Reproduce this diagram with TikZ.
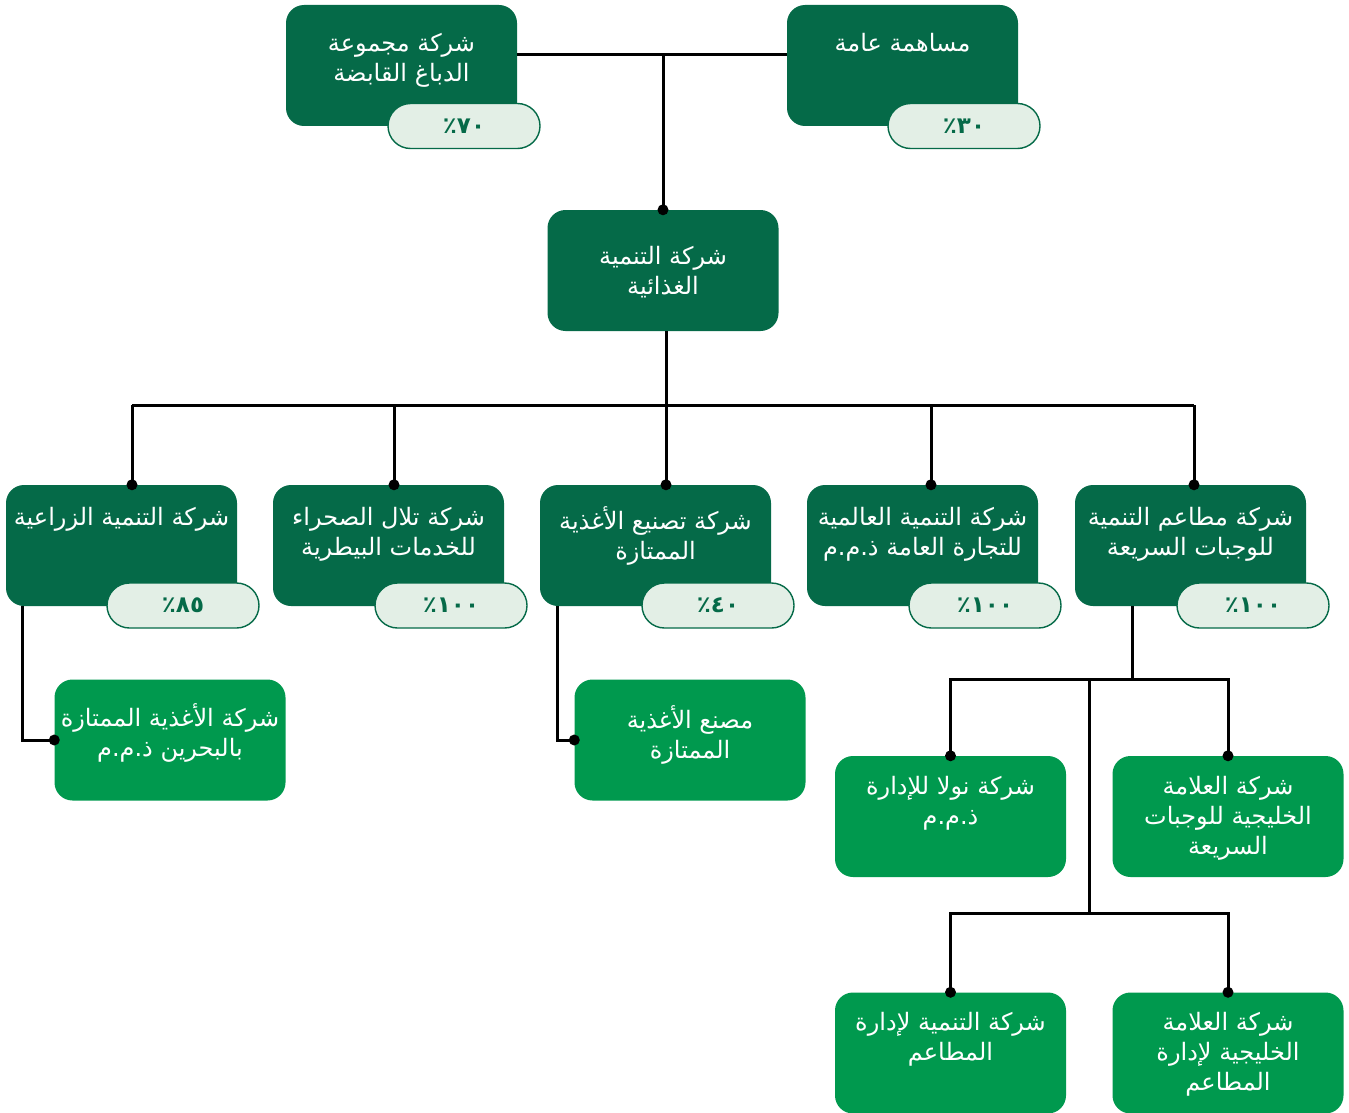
\documentclass[tikz,border=0pt]{standalone}
\usepackage{fontspec}
\TeXXeTstate=1
\newfontfamily\arabicfont[Script=Arabic]{DejaVu Sans}
\newfontfamily\pctfont{DejaVu Sans}
\newcommand{\artext}[1]{{\arabicfont\beginR #1\endR}}
\usetikzlibrary{calc}
\definecolor{dg}{RGB}{5,106,72}
\definecolor{lg}{RGB}{0,153,78}
\definecolor{pl}{RGB}{227,239,230}
\begin{document}
\begin{tikzpicture}[x=1pt,y=-1pt,
  dbox/.style={fill=dg, rounded corners=18, minimum width=231, minimum height=121, inner sep=0},
  lbox/.style={fill=lg, rounded corners=18, minimum width=231, minimum height=121, inner sep=0},
  pill/.style={fill=pl, draw=dg, line width=1.4, rounded corners=22.5, minimum width=152, minimum height=45, inner sep=0, text=dg, font=\pctfont\bfseries\fontsize{23}{24}\selectfont},
  txt/.style={text=white, align=center, anchor=north, inner sep=0, font=\fontsize{24}{30}\selectfont},
  conn/.style={line width=3, draw=black},
  dotm/.style={circle, fill=black, inner sep=0, minimum size=11}
]
\useasboundingbox (0,0) rectangle (1349,1113);

% coordinates for connector routing
\coordinate (topj) at (663,55);
\coordinate (bus) at (666,405);
\coordinate (b1) at (132,405);
\coordinate (b2) at (394,405);
\coordinate (b3) at (666,405);
\coordinate (b4) at (931,405);
\coordinate (b5) at (1194,405);
\coordinate (k1) at (22,606);
\coordinate (k3) at (557,606);
\coordinate (k5) at (1132,606);
\coordinate (rj) at (1132,679);
\coordinate (rm) at (1089,679);
\coordinate (rm2) at (1089,913);

% boxes
\node[dbox] (A) at (401.5,65.5) {};
\node[dbox] (B) at (902.5,65.5) {};
\node[dbox] (C) at (663,270.5) {};
\node[dbox] (n1) at (121.5,545.5) {};
\node[dbox] (n2) at (388.5,545.5) {};
\node[dbox] (n3) at (655.5,545.5) {};
\node[dbox] (n4) at (922.5,545.5) {};
\node[dbox] (n5) at (1190.5,545.5) {};
\node[lbox] (L1) at (170,740) {};
\node[lbox] (L2) at (690,740) {};
\node[lbox] (R1) at (950.5,816.5) {};
\node[lbox] (R2) at (1228,816.5) {};
\node[lbox] (R3) at (950.5,1053) {};
\node[lbox] (R4) at (1228,1053) {};

% connectors
\draw[conn] (A.east |- topj) -- (B.west |- topj);
\draw[conn] (topj) -- (C.north);
\draw[conn] (C.south -| bus) -- (bus);
\draw[conn] (b1) -- (b5);
\draw[conn] (b1) -- (n1.north -| b1);
\draw[conn] (b2) -- (n2.north -| b2);
\draw[conn] (b3) -- (n3.north -| b3);
\draw[conn] (b4) -- (n4.north -| b4);
\draw[conn] (b5) -- (n5.north -| b5);
\draw[conn] (k1) |- (L1.west);
\draw[conn] (k3) |- (L2.west);
\draw[conn] (k5) -- (rj);
\draw[conn] (R1.north) |- (rj) -| (R2.north);
\draw[conn] (rm) -- (rm2);
\draw[conn] (R3.north) |- (rm2) -| (R4.north);

% pills
\node[pill] (pA) at (464,126) {٪٧٠};
\node[pill] (pB) at (964,126) {٪٣٠};
\node[pill] (p1) at (183,605.5) {٪٨٥};
\node[pill] (p2) at (451,605.5) {٪١٠٠};
\node[pill] (p3) at (718,605.5) {٪٤٠};
\node[pill] (p4) at (985,605.5) {٪١٠٠};
\node[pill] (p5) at (1253,605.5) {٪١٠٠};

% texts
\node[txt] (tA) at ([yshift=-28]A.north) {\artext{شركة مجموعة}\\\artext{الدباغ القابضة}};
\node[txt] (tB) at ([yshift=-28]B.north) {\artext{مساهمة عامة}};
\node[txt, anchor=center] (tC) at ([yshift=-2]C.center) {\artext{شركة التنمية}\\\artext{الغذائية}};
\node[txt] (t1) at ([yshift=-22]n1.north) {\artext{شركة التنمية الزراعية}};
\node[txt] (t2) at ([yshift=-22]n2.north) {\artext{شركة تلال الصحراء}\\\artext{للخدمات البيطرية}};
\node[txt] (t3) at ([yshift=-22]n3.north) {\artext{شركة تصنيع الأغذية}\\\artext{الممتازة}};
\node[txt] (t4) at ([yshift=-22]n4.north) {\artext{شركة التنمية العالمية}\\\artext{للتجارة العامة ذ.م.م}};
\node[txt] (t5) at ([yshift=-22]n5.north) {\artext{شركة مطاعم التنمية}\\\artext{للوجبات السريعة}};
\node[txt] (tL1) at ([yshift=-24]L1.north) {\artext{شركة الأغذية الممتازة}\\\artext{بالبحرين ذ.م.م}};
\node[txt] (tL2) at ([yshift=-26]L2.north) {\artext{مصنع الأغذية}\\\artext{الممتازة}};
\node[txt] (tR1) at ([yshift=-20]R1.north) {\artext{شركة نولا للإدارة}\\\artext{ذ.م.م}};
\node[txt] (tR2) at ([yshift=-20]R2.north) {\artext{شركة العلامة}\\\artext{الخليجية للوجبات}\\\artext{السريعة}};
\node[txt] (tR3) at ([yshift=-20]R3.north) {\artext{شركة التنمية لإدارة}\\\artext{المطاعم}};
\node[txt] (tR4) at ([yshift=-20]R4.north) {\artext{شركة العلامة}\\\artext{الخليجية لإدارة}\\\artext{المطاعم}};

% dots
\node[dotm] (dC) at (C.north) {};
\node[dotm] (d1) at (n1.north -| b1) {};
\node[dotm] (d2) at (n2.north -| b2) {};
\node[dotm] (d3) at (n3.north -| b3) {};
\node[dotm] (d4) at (n4.north -| b4) {};
\node[dotm] (d5) at (n5.north -| b5) {};
\node[dotm] (dL1) at (L1.west) {};
\node[dotm] (dL2) at (L2.west) {};
\node[dotm] (dR1) at (R1.north) {};
\node[dotm] (dR2) at (R2.north) {};
\node[dotm] (dR3) at (R3.north) {};
\node[dotm] (dR4) at (R4.north) {};
\end{tikzpicture}
\end{document}
